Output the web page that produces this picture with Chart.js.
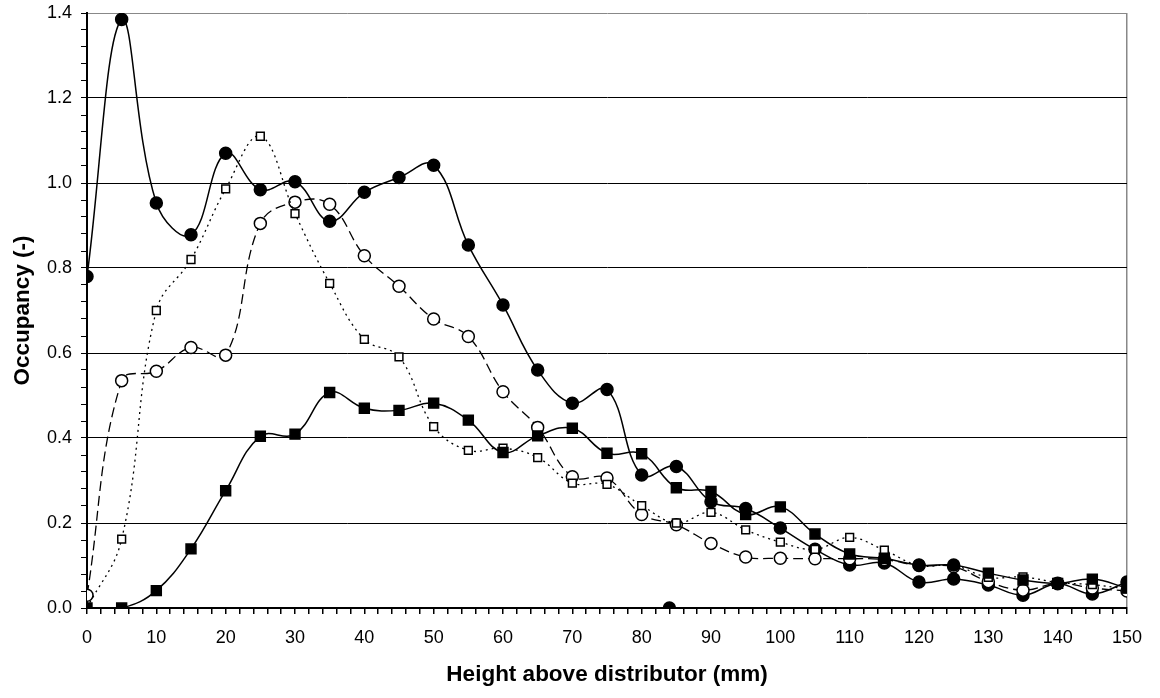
<!DOCTYPE html>
<html>
<head>
<meta charset="utf-8">
<script src="https://cdn.jsdelivr.net/npm/chart.js@4/dist/chart.umd.min.js"></script>
<style>
  html, body { margin: 0; padding: 0; background: #fff; }
  #wrap { width: 1160px; height: 698px; }
</style>
</head>
<body>
<div id="wrap"><canvas id="myChart" width="1160" height="698"></canvas></div>
<script>
// heights above distributor (mm)
const heights = [0,5,10,15,20,25,30,35,40,45,50,55,60,65,70,75,80,85,90,95,100,105,110,115,120,125,130,135,140,145,150]

// filled circles, solid line
const filledCircles = [0.78,1.385,0.953,0.878,1.07,0.984,1.003,0.91,0.978,1.013,1.042,0.854,0.713,0.56,0.482,0.514,0.313,0.333,0.25,0.234,0.188,0.138,0.101,0.106,0.061,0.068,0.054,0.03,0.057,0.033,0.061]
// open circles, dashed line
const openCircles = [0.03,0.535,0.557,0.613,0.595,0.905,0.955,0.95,0.829,0.757,0.68,0.639,0.509,0.425,0.309,0.306,0.22,0.196,0.152,0.12,0.117,0.116,0.116,0.114,0.1,0.097,0.062,0.042,0.058,0.047,0.04]
// open squares, dotted line
const openSquares = [0.0,0.162,0.70,0.82,0.986,1.11,0.928,0.764,0.632,0.591,0.427,0.371,0.376,0.354,0.294,0.291,0.241,0.2,0.225,0.184,0.155,0.138,0.166,0.136,0.1,0.1,0.072,0.073,0.06,0.055,0.045]
// filled squares, solid line
const filledSquares = [0.0,0.0,0.041,0.139,0.276,0.404,0.409,0.507,0.47,0.465,0.482,0.442,0.366,0.405,0.423,0.364,0.363,0.283,0.274,0.22,0.238,0.174,0.127,0.117,0.101,0.101,0.082,0.066,0.058,0.068,0.047]
// the lone point on the axis
const strayX = [84, 150]
const strayY = [0, 0]

const yTicks = ['0.0','0.2','0.4','0.6','0.8','1.0','1.2','1.4']

const toPoints = (xs, ys) => xs.map((x, i) => ({x: x, y: ys[i]}))
const tickFont = { family: 'Liberation Sans, Arial', size: 18 }
const titleFont = { family: 'Liberation Sans, Arial', size: 22.5, weight: 'bold' }

const ctx = document.getElementById('myChart')
const chart = new Chart(ctx, {
    type: 'line',
    data: {
        datasets: [{
            label: 'stray',
            data: toPoints(strayX, strayY),
            borderColor: '#000',
            backgroundColor: '#000',
            borderWidth: 1.5,
            pointRadius: [6, 0],
            tension: 0
        }, {
            label: 'filled squares',
            data: toPoints(heights, filledSquares),
            borderColor: '#000',
            backgroundColor: '#000',
            borderWidth: 1.5,
            pointStyle: heights.map(h => (h === 120 || h === 125) ? 'circle' : 'rect'),
            pointRadius: heights.map(h => (h === 120 || h === 125) ? 6 : 7),
            tension: 0.4
        }, {
            label: 'open squares',
            data: toPoints(heights, openSquares),
            borderColor: '#000',
            backgroundColor: '#fff',
            borderWidth: 1.3,
            borderDash: [2, 4],
            pointStyle: 'rect',
            pointRadius: 5.5,
            pointBorderWidth: 1.5,
            tension: 0.4
        }, {
            label: 'open circles',
            data: toPoints(heights, openCircles),
            borderColor: '#000',
            backgroundColor: '#fff',
            borderWidth: 1.3,
            borderDash: [10, 5],
            pointStyle: 'circle',
            pointRadius: 6,
            pointBorderWidth: 1.5,
            tension: 0.4
        }, {
            label: 'filled circles',
            data: toPoints(heights, filledCircles),
            borderColor: '#000',
            backgroundColor: '#000',
            borderWidth: 1.5,
            pointStyle: 'circle',
            pointRadius: 6,
            tension: 0.4
        }]
    },
    options: {
        responsive: false,
        animation: false,
        layout: { padding: { top: 13, right: 33, left: 0, bottom: 0 } },
        plugins: { legend: { display: false }, tooltip: { enabled: false } },
        scales: {
            x: {
                type: 'linear',
                min: 0,
                max: 150,
                afterFit: s => { s.height = 90 },
                border: { color: '#000', width: 2 },
                grid: {
                    drawOnChartArea: true,
                    color: c => c.tick && c.tick.value === 150 ? '#888' : 'rgba(0,0,0,0)',
                    tickColor: '#000',
                    tickLength: 6,
                    lineWidth: 1.5
                },
                ticks: {
                    stepSize: 2,
                    autoSkip: false,
                    maxRotation: 0,
                    color: '#000',
                    font: tickFont,
                    padding: 13,
                    callback: v => v % 10 === 0 ? String(v) : ''
                },
                title: {
                    display: true,
                    text: 'Height above distributor (mm)',
                    color: '#000',
                    font: titleFont,
                    padding: { top: 0, bottom: 10 }
                }
            },
            y: {
                min: 0,
                max: 1.4,
                afterFit: s => { s.width = 87; s.paddingTop = 0; s.paddingBottom = 0 },
                border: { color: '#000', width: 2 },
                grid: {
                    color: c => {
                        const v = Math.round(c.tick.value * 100)
                        if (v === 140) return '#888'
                        return v % 20 === 0 ? '#000' : 'rgba(0,0,0,0)'
                    },
                    tickColor: '#000',
                    tickLength: 6,
                    lineWidth: 1
                },
                ticks: {
                    stepSize: 0.04,
                    autoSkip: false,
                    color: '#000',
                    font: tickFont,
                    padding: 9,
                    callback: v => {
                        const k = Math.round(v * 100)
                        return k % 20 === 0 ? yTicks[k / 20] : ''
                    }
                },
                title: {
                    display: true,
                    text: 'Occupancy (-)',
                    color: '#000',
                    font: titleFont,
                    padding: { top: 9, bottom: 0 }
                }
            }
        }
    }
});
</script>
</body>
</html>
